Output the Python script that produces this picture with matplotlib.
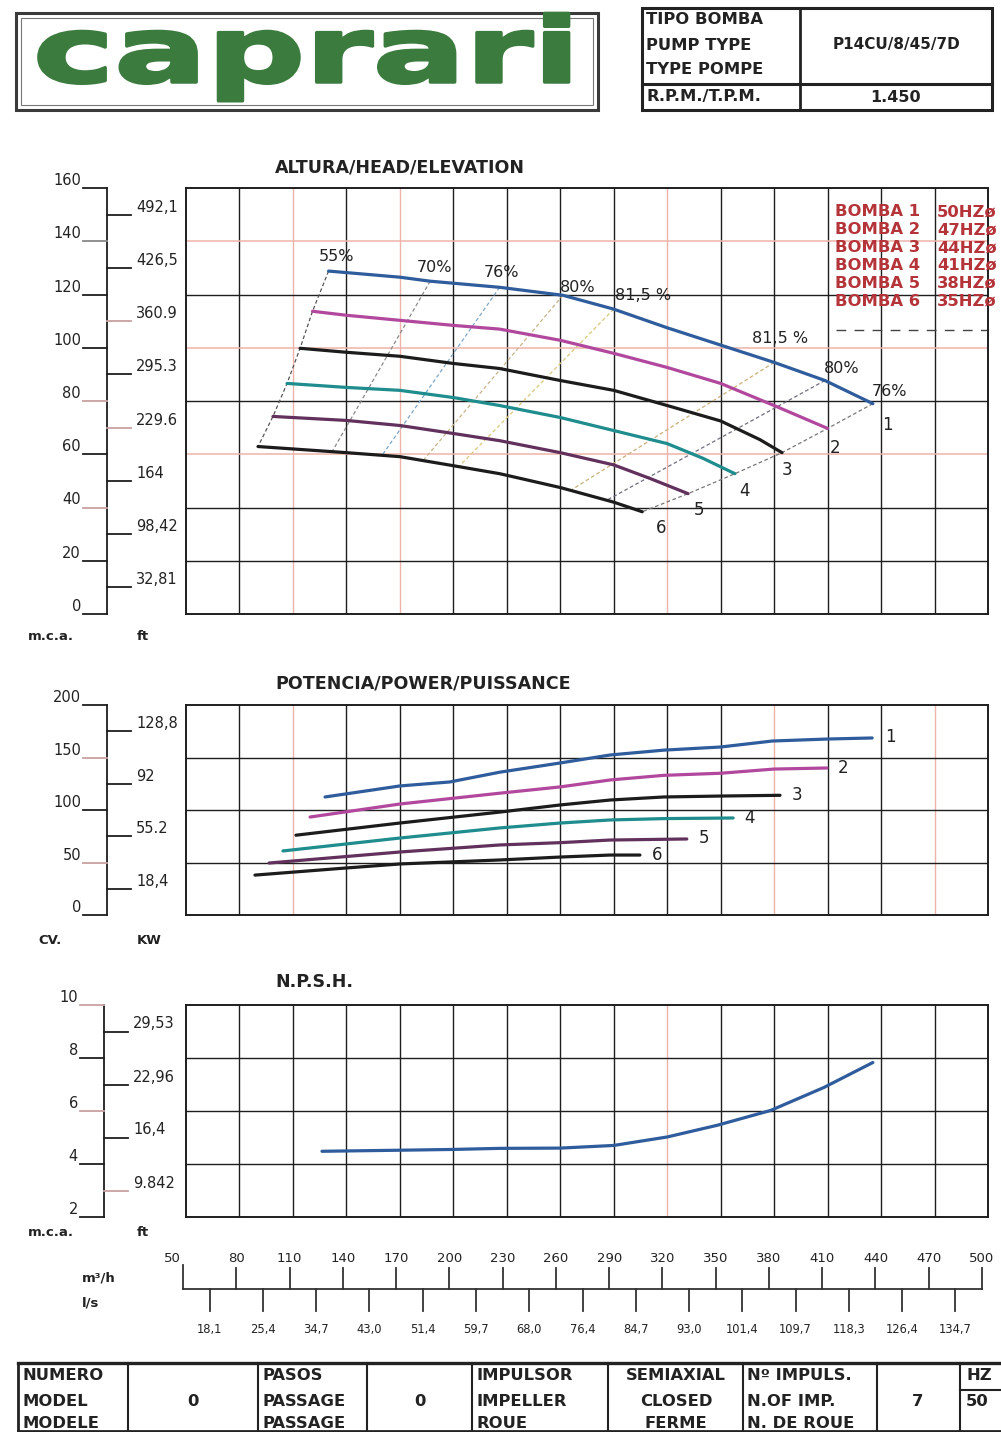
import matplotlib
matplotlib.use("Agg")
import matplotlib.pyplot as plt
from matplotlib.patches import Rectangle
from matplotlib.transforms import Affine2D
import matplotlib.patheffects as pe

plt.rcParams["font.family"] = ["DejaVu Sans"]

W, H = 1001, 1432

# ---------------------------------------------------------------- data
flow_m3h = [50, 80, 110, 140, 170, 200, 230, 260, 290, 320, 350, 380, 410, 440, 470, 500]
flow_ls_pos = [65, 95, 125, 155, 185, 215, 245, 275, 305, 335, 365, 395, 425, 455, 485]
flow_ls_labels = ["18,1", "25,4", "34,7", "43,0", "51,4", "59,7", "68,0", "76,4",
                  "84,7", "93,0", "101,4", "109,7", "118,3", "126,4", "134,7"]

pump_ids = ["1", "2", "3", "4", "5", "6"]
pump_hz = ["50HZø", "47HZø", "44HZø", "41HZø", "38HZø", "35HZø"]

# head curves (m3/h, m)
head_q1 = [130, 170, 187, 226, 261.5, 290, 320, 350, 380, 408.5, 435.4]
head_h1 = [128.8, 126.5, 125.0, 122.7, 119.7, 114.5, 107.5, 101.0, 94.5, 87.7, 79.0]
head_q2 = [121, 140, 170, 200, 226, 260, 290, 320, 350, 380, 410]
head_h2 = [113.7, 112.2, 110.3, 108.4, 107.0, 102.8, 97.9, 92.6, 86.6, 78.3, 69.7]
head_q3 = [114, 140, 170, 200, 226, 260, 290, 320, 350, 372, 384.4]
head_h3 = [99.8, 98.3, 96.8, 94.1, 92.2, 87.7, 84.0, 78.3, 72.5, 65.5, 60.6]
head_q4 = [106.7, 140, 170, 200, 226, 260, 290, 320, 340, 358]
head_h4 = [86.6, 85.1, 84.0, 81.3, 78.3, 73.8, 68.9, 64.0, 58.5, 52.7]
head_q5 = [98.8, 140, 170, 200, 226, 260, 290, 310, 331.7]
head_h5 = [74.2, 72.7, 70.8, 67.8, 65.1, 60.6, 56.0, 51.0, 45.2]
head_q6 = [90.4, 140, 170, 200, 226, 260, 290, 306]
head_h6 = [62.9, 60.6, 59.1, 55.7, 52.7, 47.5, 42.0, 38.4]

# iso-efficiency lines between the 50 Hz and the 35 Hz curve
eff_top_q = [187, 226, 261.5, 290, 380, 408.5]
eff_top_h = [125.0, 122.7, 119.7, 114.5, 94.5, 87.7]
eff_bot_q = [132, 160, 183, 203, 266, 286]
eff_bot_h = [61.0, 59.6, 57.6, 55.3, 46.5, 42.7]
eff_colors = ["#8a8a8a", "#7fa7c9", "#c9b48a", "#d9c77a", "#c9b07a", "#6f6f7f"]
eff_text = ["55%", "70%", "76%", "80%", "81,5 %", "81,5 %", "80%", "76%"]
eff_text_q = [134.7, 189.7, 227.3, 269.9, 306.4, 383.3, 418.0, 445.0]
eff_text_h = [134.4, 130.3, 128.4, 122.7, 119.7, 103.5, 92.2, 83.6]

# absorbed power (m3/h, CV)
pow_q1 = [128, 170, 198, 226, 260, 288, 318, 350, 379, 410, 435]
pow_p1 = [112.4, 122.9, 126.7, 136.0, 144.8, 152.4, 157.0, 160.0, 165.7, 167.6, 168.6]
pow_q2 = [119.6, 170, 226, 260, 288, 318, 350, 380, 409.6]
pow_p2 = [93.3, 105.7, 116.0, 122.0, 128.6, 133.0, 135.0, 139.0, 140.0]
pow_q3 = [111.7, 170, 226, 260, 288, 318, 350, 383.3]
pow_p3 = [76.0, 87.6, 98.0, 104.8, 109.5, 112.4, 113.3, 114.0]
pow_q4 = [104.4, 170, 226, 260, 288, 318, 357]
pow_p4 = [61.0, 73.3, 82.9, 87.6, 90.5, 91.8, 92.4]
pow_q5 = [96.6, 170, 226, 260, 288, 331]
pow_p5 = [49.5, 60.0, 66.7, 68.9, 71.4, 72.4]
pow_q6 = [88.7, 140, 170, 226, 260, 288, 304.7]
pow_p6 = [38.0, 44.8, 48.6, 52.4, 55.2, 57.1, 57.1]

# NPSH required (m3/h, m)
npsh_q = [126.3, 170, 200, 226, 260, 290, 320, 348, 378, 408, 435.4]
npsh_m = [4.48, 4.52, 4.55, 4.59, 4.60, 4.70, 5.02, 5.46, 6.02, 6.89, 7.83]

# side scales
head_mca = [0, 20, 40, 60, 80, 100, 120, 140, 160]
head_ft_at = [10, 30, 50, 70, 90, 110, 130, 150]
head_ft = ["32,81", "98,42", "164", "229.6", "295.3", "360.9", "426,5", "492,1"]
pow_cv = [0, 50, 100, 150, 200]
pow_kw_at = [25, 75, 125, 175]
pow_kw = ["18,4", "55.2", "92", "128,8"]
npsh_mca = [2, 4, 6, 8, 10]
npsh_ft_at = [3, 5, 7, 9]
npsh_ft = ["9.842", "16,4", "22,96", "29,53"]

# ---------------------------------------------------------------- style
DARK = "#1e1e1e"
PINK = "#eeb4aa"
GREY_PINK = "#c8a0a0"
C_BLUE = "#2f5c9c"
C_MAG = "#b2489e"
C_BLK = "#1c1c1c"
C_TEAL = "#1f8c8e"
C_PURP = "#62305c"
curve_colors = [C_BLUE, C_MAG, C_BLK, C_TEAL, C_PURP, C_BLK]
RED_TXT = "#b4343a"
GREEN = "#3b7b3e"

fig = plt.figure(figsize=(W / 100, H / 100), dpi=100)
fig.patch.set_facecolor("white")


def px_axes(l, t, r, b, **kw):
    return fig.add_axes([l / W, 1 - b / H, (r - l) / W, (b - t) / H], **kw)


class HorizontalStretch(pe.AbstractPathEffect):
    """Widen glyphs horizontally about a fixed display x, with a thin outline."""

    def __init__(self, sx, x0, outline=2.0):
        super().__init__()
        self._sx = sx
        self._x0 = x0
        self._outline = outline

    def draw_path(self, renderer, gc, tpath, affine, rgbFace=None):
        aff = affine + Affine2D().translate(-self._x0, 0).scale(self._sx, 1.0).translate(self._x0, 0)
        gc0 = renderer.new_gc()
        gc0.copy_properties(gc)
        gc0.set_linewidth(self._outline)
        gc0.set_foreground(rgbFace if rgbFace is not None else gc.get_rgb())
        renderer.draw_path(gc0, tpath, aff, rgbFace)
        gc0.restore()


def chart_frame(t, b, ylim, h_black, h_pink, v_pink):
    ax = px_axes(186, t, 988, b)
    ax.set_xlim(flow_m3h[0], flow_m3h[-1])
    ax.set_ylim(*ylim)
    ax.set_xticks([])
    ax.set_yticks([])
    for s in ax.spines.values():
        s.set_linewidth(1.4)
        s.set_color(DARK)
    for q in flow_m3h[1:-1]:
        if q in v_pink:
            ax.axvline(q, color=PINK, lw=1.0, zorder=1)
        else:
            ax.axvline(q, color=DARK, lw=1.0, zorder=1)
    for v in h_pink:
        ax.axhline(v, color=PINK, lw=1.1, zorder=1)
    for v in h_black:
        ax.axhline(v, color=DARK, lw=1.0, zorder=1)
    return ax


def side_scale(t, b, ylim, x0, lv, lcol, rv, rtxt, rcol, fs=10.5):
    sa = px_axes(30, t, 185, b)
    sa.set_xlim(30, 185)
    sa.set_ylim(*ylim)
    sa.axis("off")
    sa.plot([x0, x0], [lv[0], lv[-1]], color=DARK, lw=1.3, clip_on=False)
    for v, c in zip(lv, lcol):
        sa.plot([x0 - 24, x0], [v, v], color=c, lw=1.3, clip_on=False)
        sa.text(x0 - 26, v, f"{v:g}", ha="right", va="bottom", fontsize=fs,
                color="#222222")
    for v, s, c in zip(rv, rtxt, rcol):
        sa.plot([x0, x0 + 24], [v, v], color=c, lw=1.3, clip_on=False)
        sa.text(x0 + 29, v, s, ha="left", va="bottom", fontsize=fs,
                color="#222222")
    return sa


# ---------------------------------------------------------------- head chart
ax_h = chart_frame(188, 614, (0, 160), [20, 40, 80, 120], [60, 100, 140], [110, 170, 320])
ax_h.axhline(106.5, xmin=0.81, xmax=1.0, color="#444444", lw=1.0, ls=(0, (7, 6)), zorder=1)

head_q = [head_q1, head_q2, head_q3, head_q4, head_q5, head_q6]
head_h = [head_h1, head_h2, head_h3, head_h4, head_h5, head_h6]

# 55 % line through the curve starts, 76 % line through the curve ends
ax_h.plot([q[0] for q in head_q], [h[0] for h in head_h], color="#555555",
          lw=0.9, ls=(0, (3, 2)), zorder=2)
ax_h.plot([q[-1] for q in head_q], [h[-1] for h in head_h], color="#777777",
          lw=0.9, ls=(0, (3, 2)), zorder=2)
for tq, th, bq, bh, c in zip(eff_top_q, eff_top_h, eff_bot_q, eff_bot_h, eff_colors):
    ax_h.plot([tq, bq], [th, bh], color=c, lw=0.9, ls=(0, (3, 2)), zorder=2)

for q, h, c in zip(head_q, head_h, curve_colors):
    ax_h.plot(q, h, color=c, lw=2.3, zorder=3, solid_capstyle="round")

for s, q, h in zip(eff_text, eff_text_q, eff_text_h):
    ax_h.text(q, h, s, ha="center", va="center", fontsize=11.5, color="#222222",
              zorder=4, clip_on=False)

head_lab_q = [443.3, 414.1, 387.2, 363.6, 337.8, 316.5]
head_lab_h = [70.8, 62.5, 54.2, 46.3, 39.2, 32.4]
for s, q, h in zip(pump_ids, head_lab_q, head_lab_h):
    ax_h.text(q, h, s, ha="center", va="center", fontsize=12, color="#222222", zorder=4)

side_scale(188, 614, (0, 160), 107, head_mca,
           [DARK, DARK, GREY_PINK, DARK, GREY_PINK, DARK, DARK, "#888888", DARK],
           head_ft_at, head_ft,
           [DARK, DARK, DARK, GREY_PINK, DARK, GREY_PINK, DARK, DARK])

# ---------------------------------------------------------------- power chart
ax_p = chart_frame(705, 915, (0, 200), [50, 100, 150], [], [110, 380, 470])
pow_q = [pow_q1, pow_q2, pow_q3, pow_q4, pow_q5, pow_q6]
pow_p = [pow_p1, pow_p2, pow_p3, pow_p4, pow_p5, pow_p6]
for q, p, c in zip(pow_q, pow_p, curve_colors):
    ax_p.plot(q, p, color=c, lw=2.3, zorder=3, solid_capstyle="round")
pow_lab_q = [445.0, 418.6, 392.8, 366.4, 340.6, 314.3]
pow_lab_p = [169.5, 140.0, 114.3, 92.4, 73.3, 57.1]
for s, q, p in zip(pump_ids, pow_lab_q, pow_lab_p):
    ax_p.text(q, p, s, ha="center", va="center", fontsize=12, color="#222222", zorder=4)

side_scale(705, 915, (0, 200), 107, pow_cv,
           [DARK, GREY_PINK, DARK, GREY_PINK, DARK],
           pow_kw_at, pow_kw, [DARK, DARK, DARK, DARK])

# ---------------------------------------------------------------- NPSH chart
ax_n = chart_frame(1005, 1217, (2, 10), [4, 6, 8], [], [320])
ax_n.plot(npsh_q, npsh_m, color=C_BLUE, lw=2.3, zorder=3, solid_capstyle="round")
side_scale(1005, 1217, (2, 10), 104, npsh_mca,
           [DARK, DARK, GREY_PINK, DARK, GREY_PINK],
           npsh_ft_at, npsh_ft, [GREY_PINK, DARK, DARK, DARK])

# ---------------------------------------------------------------- flow scale
bs = px_axes(183, 1245, 982, 1340)
bs.set_xlim(flow_m3h[0], flow_m3h[-1])
bs.set_ylim(1340, 1245)
bs.axis("off")
bs.plot([flow_m3h[0], flow_m3h[-1]], [1289, 1289], color="#333333", lw=1.3, clip_on=False)
for i, q in enumerate(flow_m3h):
    top = 1265 if i == 0 else 1268
    bs.plot([q, q], [1289, top], color="#333333", lw=1.3, clip_on=False)
    if i == 0:
        bs.text(q - 1.5, 1259, str(q), ha="right", va="center", fontsize=9.5, color="#222222")
    else:
        bs.text(q, 1259, str(q), ha="center", va="center", fontsize=9.5, color="#222222")
for q, s in zip(flow_ls_pos, flow_ls_labels):
    bs.plot([q, q], [1289, 1311], color="#333333", lw=1.3, clip_on=False)
    bs.text(q, 1329, s, ha="center", va="center", fontsize=8.3, color="#222222")

# ---------------------------------------------------------------- overlay (header, titles, table)
ov = px_axes(0, 0, W, H)
ov.set_xlim(0, W)
ov.set_ylim(H, 0)
ov.axis("off")
ov.patch.set_alpha(0)

# logo: heavy, horizontally extended lettering
ov.add_patch(Rectangle((16, 13), 582, 97, fill=False, lw=2.2, ec="#3a3a3a"))
ov.add_patch(Rectangle((21, 18), 572, 87, fill=False, lw=0.8, ec="#777777"))
logo_x = 33
logo_x0 = ov.transData.transform((logo_x, 82))[0]
ov.text(logo_x, 82, "caprari", ha="left", va="baseline", fontsize=65, fontweight="bold",
        color=GREEN, path_effects=[HorizontalStretch(1.52, logo_x0, 2.5)])

# pump type table
ov.add_patch(Rectangle((642, 8), 350, 102, fill=False, lw=2.2, ec="#222222"))
ov.plot([800, 800], [8, 110], color="#222222", lw=2.0)
ov.plot([642, 992], [84, 84], color="#222222", lw=2.2)
for s, y in zip(["TIPO BOMBA", "PUMP TYPE", "TYPE POMPE", "R.P.M./T.P.M."], [19, 45, 70, 97]):
    ov.text(646, y, s, ha="left", va="center", fontsize=11.8, fontweight="bold", color="#222222")
ov.text(896, 45, "P14CU/8/45/7D", ha="center", va="center", fontsize=11,
        fontweight="bold", color="#222222")
ov.text(896, 97, "1.450", ha="center", va="center", fontsize=11.5,
        fontweight="bold", color="#222222")

# chart titles
ov.text(275, 167, "ALTURA/HEAD/ELEVATION", ha="left", va="center", fontsize=12.6,
        fontweight="bold", color="#222222")
ov.text(275, 683, "POTENCIA/POWER/PUISSANCE", ha="left", va="center", fontsize=12.6,
        fontweight="bold", color="#222222")
ov.text(275, 982, "N.P.S.H.", ha="left", va="center", fontsize=12.6,
        fontweight="bold", color="#222222")

# legend of pump frequencies
for i, (pid, hz) in enumerate(zip(pump_ids, pump_hz)):
    y = 212 + 17.8 * i
    ov.text(835, y, f"BOMBA {pid}", ha="left", va="center", fontsize=11.8,
            fontweight="bold", color=RED_TXT)
    ov.text(937, y, hz, ha="left", va="center", fontsize=11.8,
            fontweight="bold", color=RED_TXT)

# units
for s, x, y in [("m.c.a.", 28, 637), ("ft", 137, 637), ("CV.", 38, 940), ("KW", 137, 940),
                ("m.c.a.", 28, 1232), ("ft", 137, 1232), ("m³/h", 82, 1278), ("l/s", 82, 1303)]:
    ov.text(x, y, s, ha="left", va="center", fontsize=9.5, fontweight="bold", color="#222222")

# model data table
ov.plot([18, 1001], [1363, 1363], color="#222222", lw=2.4)
ov.plot([18, 1001], [1431, 1431], color="#222222", lw=2.0)
for x in [18, 128, 258, 367, 472, 608, 743, 877, 960]:
    ov.plot([x, x], [1363, 1432], color="#222222", lw=2.0 if x == 18 else 1.5)
ov.plot([960, 1001], [1390, 1390], color="#222222", lw=1.5)
rows = [1376, 1402, 1423]
for col_x, words in [(22, ["NUMERO", "MODEL", "MODELE"]),
                     (262, ["PASOS", "PASSAGE", "PASSAGE"]),
                     (476, ["IMPULSOR", "IMPELLER", "ROUE"]),
                     (747, ["Nº IMPULS.", "N.OF IMP.", "N. DE ROUE"])]:
    for w, y in zip(words, rows):
        ov.text(col_x, y, w, ha="left", va="center", fontsize=11.8,
                fontweight="bold", color="#222222")
for w, y in zip(["SEMIAXIAL", "CLOSED", "FERME"], rows):
    ov.text(676, y, w, ha="center", va="center", fontsize=11.8,
            fontweight="bold", color="#222222")
ov.text(193, 1402, "0", ha="center", va="center", fontsize=11.8, fontweight="bold", color="#222222")
ov.text(420, 1402, "0", ha="center", va="center", fontsize=11.8, fontweight="bold", color="#222222")
ov.text(918, 1402, "7", ha="center", va="center", fontsize=11.8, fontweight="bold", color="#222222")
ov.text(966, 1376, "HZ", ha="left", va="center", fontsize=11.8, fontweight="bold", color="#222222")
ov.text(966, 1402, "50", ha="left", va="center", fontsize=11.8, fontweight="bold", color="#222222")

fig.savefig("out.png", dpi=100, facecolor="white")
